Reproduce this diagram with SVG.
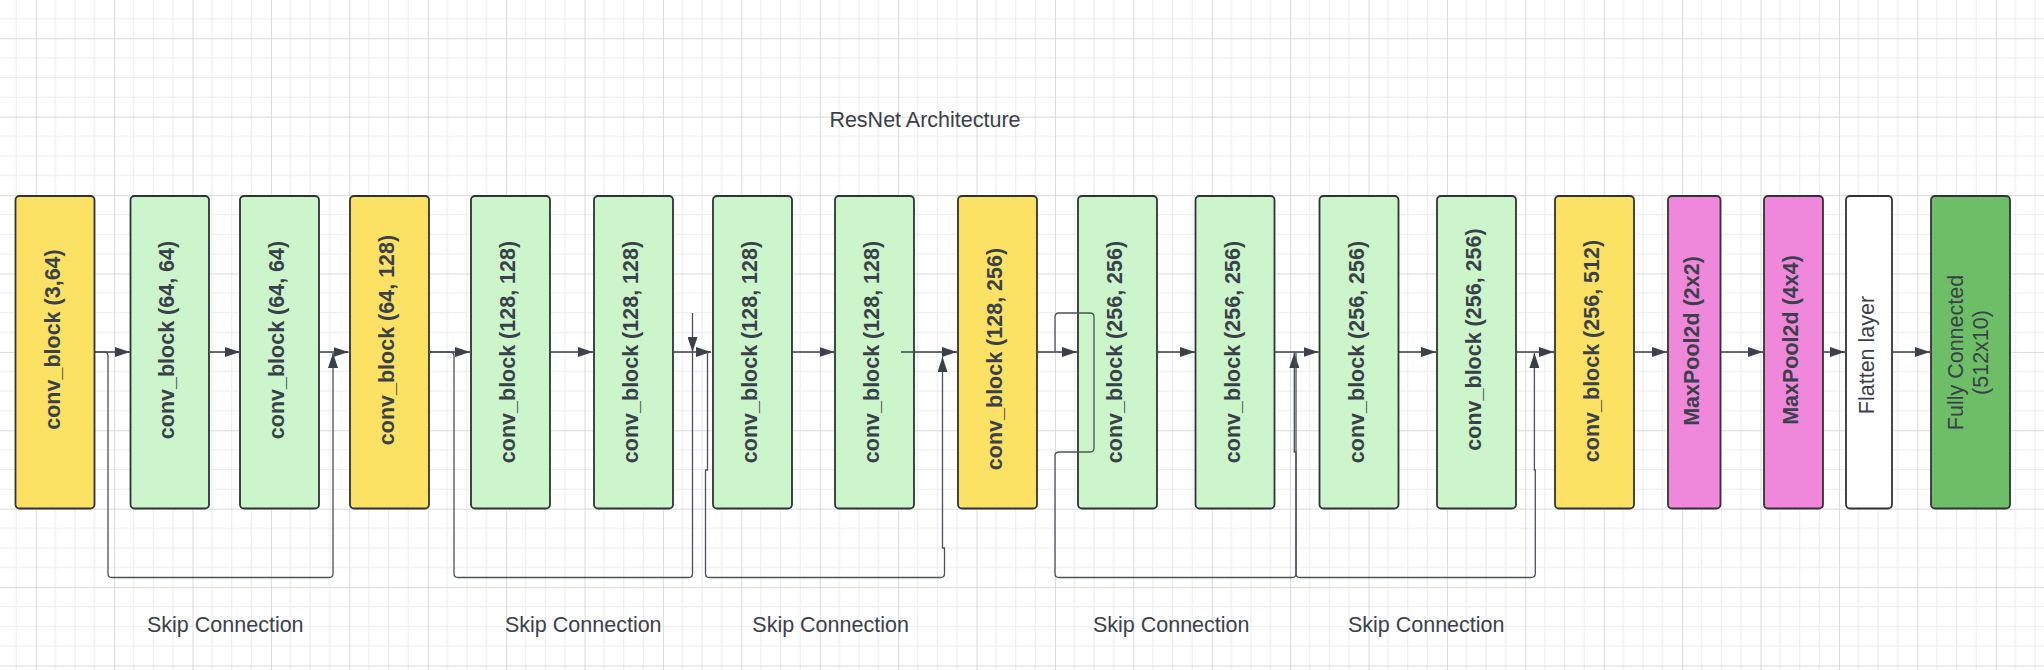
<svg xmlns="http://www.w3.org/2000/svg" width="2044" height="670" viewBox="0 0 2044 670">
  <defs>
    <pattern id="grid" x="35.7" y="38.3" width="78.4" height="78.4" patternUnits="userSpaceOnUse">
      <path d="M19.6,0 V78.4 M39.2,0 V78.4 M58.8,0 V78.4 M0,19.6 H78.4 M0,39.2 H78.4 M0,58.8 H78.4" stroke="#ececec" stroke-width="1" fill="none"/>
      <path d="M0.5,0 V78.4 M0,0.5 H78.4" stroke="#dadada" stroke-width="1" fill="none"/>
    </pattern>
    <marker id="arr" markerUnits="userSpaceOnUse" markerWidth="15" markerHeight="10" refX="15" refY="5" orient="auto">
      <path d="M0,0 L15,5 L0,10 z" fill="#3a414a"/>
    </marker>
    <style>
      .node { stroke: #2f3337; stroke-width: 1.8; }
      .yellow { fill: #fce264; }
      .green { fill: #ccf5cc; }
      .pink { fill: #ef87da; }
      .white { fill: #ffffff; }
      .fc { fill: #6dbe66; }
      .lbl { font-family: "Liberation Sans", Arial, sans-serif; font-size: 21.5px; fill: #3a414a; text-anchor: middle; }
      .b { font-weight: bold; }
      .main { stroke: #3a414a; stroke-width: 1.5; fill: none; }
      .skip { stroke: #4b525a; stroke-width: 1.3; fill: none; }
    </style>
  </defs>
  <rect width="2044" height="670" fill="#ffffff"/>
  <rect width="2044" height="670" fill="url(#grid)"/>

  <text id="title" class="lbl" x="925" y="127.3">ResNet Architecture</text>

  <g id="n1"><rect class="node yellow" x="15.5" y="196" width="79" height="312.5" rx="4"/><text class="lbl b" transform="translate(55,339.5) rotate(-90)" y="4.5">conv_block (3,64)</text></g>
  <g id="n2"><rect class="node green" x="130.5" y="196" width="78.5" height="312.5" rx="4"/><text class="lbl b" transform="translate(169.7,340) rotate(-90)" y="4.5">conv_block (64, 64)</text></g>
  <g id="n3"><rect class="node green" x="240" y="196" width="79" height="312.5" rx="4"/><text class="lbl b" transform="translate(279.5,340) rotate(-90)" y="4.5">conv_block (64, 64)</text></g>
  <g id="n4"><rect class="node yellow" x="350" y="196" width="79" height="312.5" rx="4"/><text class="lbl b" transform="translate(389.5,340) rotate(-90)" y="4.5">conv_block (64, 128)</text></g>
  <g id="n5"><rect class="node green" x="471" y="196" width="79" height="312.5" rx="4"/><text class="lbl b" transform="translate(510.5,352) rotate(-90)" y="4.5">conv_block (128, 128)</text></g>
  <g id="n6"><rect class="node green" x="594" y="196" width="79" height="312.5" rx="4"/><text class="lbl b" transform="translate(633.5,352) rotate(-90)" y="4.5">conv_block (128, 128)</text></g>
  <g id="n7"><rect class="node green" x="713" y="196" width="79" height="312.5" rx="4"/><text class="lbl b" transform="translate(752.5,352) rotate(-90)" y="4.5">conv_block (128, 128)</text></g>
  <g id="n8"><rect class="node green" x="835" y="196" width="79" height="312.5" rx="4"/><text class="lbl b" transform="translate(874.5,352) rotate(-90)" y="4.5">conv_block (128, 128)</text></g>
  <g id="n9"><rect class="node yellow" x="958" y="196" width="79" height="312.5" rx="4"/><text class="lbl b" transform="translate(997.5,359) rotate(-90)" y="4.5">conv_block (128, 256)</text></g>
  <g id="n10"><rect class="node green" x="1078" y="196" width="79" height="312.5" rx="4"/><text class="lbl b" transform="translate(1117.5,352) rotate(-90)" y="4.5">conv_block (256, 256)</text></g>
  <g id="n11"><rect class="node green" x="1195.5" y="196" width="79" height="312.5" rx="4"/><text class="lbl b" transform="translate(1235,352) rotate(-90)" y="4.5">conv_block (256, 256)</text></g>
  <g id="n12"><rect class="node green" x="1319.5" y="196" width="79" height="312.5" rx="4"/><text class="lbl b" transform="translate(1359,352) rotate(-90)" y="4.5">conv_block (256, 256)</text></g>
  <g id="n13"><rect class="node green" x="1437" y="196" width="79" height="312.5" rx="4"/><text class="lbl b" transform="translate(1476.5,339.5) rotate(-90)" y="4.5">conv_block (256, 256)</text></g>
  <g id="n14"><rect class="node yellow" x="1555" y="196" width="79" height="312.5" rx="4"/><text class="lbl b" transform="translate(1594.5,351) rotate(-90)" y="4.5">conv_block (256, 512)</text></g>
  <g id="n15"><rect class="node pink" x="1668" y="196" width="52.5" height="312.5" rx="4"/><text class="lbl b" transform="translate(1694.2,341) rotate(-90)" y="4.5">MaxPool2d (2x2)</text></g>
  <g id="n16"><rect class="node pink" x="1764" y="196" width="59" height="312.5" rx="4"/><text class="lbl b" transform="translate(1793.5,340) rotate(-90)" y="4.5">MaxPool2d (4x4)</text></g>
  <g id="n17"><rect class="node white" x="1846" y="196" width="46" height="312.5" rx="4"/><text class="lbl" transform="translate(1869,355) rotate(-90)" y="4.5">Flatten layer</text></g>
  <g id="n18"><rect class="node fc" x="1931" y="196" width="79" height="312.5" rx="4"/><text class="lbl" transform="translate(1970.5,352.5) rotate(-90)"><tspan x="0" y="-8">Fully Connected</tspan><tspan x="0" y="17">(512x10)</tspan></text></g>

  <g id="connectors">
    <path class="main" marker-end="url(#arr)" d="M94.5,352 H130"/>
    <path class="main" marker-end="url(#arr)" d="M209,352 H240"/>
    <path class="main" marker-end="url(#arr)" d="M319,352 H348.5"/>
    <path class="main" marker-end="url(#arr)" d="M429,352 H470"/>
    <path class="main" marker-end="url(#arr)" d="M550,352 H593"/>
    <path class="main" marker-end="url(#arr)" d="M673,352 H711"/>
    <path class="main" marker-end="url(#arr)" d="M792,352 H834.5"/>
    <path class="main" marker-end="url(#arr)" d="M901,352 H957"/>
    <path class="main" marker-end="url(#arr)" d="M1037,352 H1077"/>
    <path class="main" marker-end="url(#arr)" d="M1157,352 H1195"/>
    <path class="main" marker-end="url(#arr)" d="M1274.5,352 H1318.5"/>
    <path class="main" marker-end="url(#arr)" d="M1398.5,352 H1436"/>
    <path class="main" marker-end="url(#arr)" d="M1516,352 H1554"/>
    <path class="main" marker-end="url(#arr)" d="M1634,352 H1667"/>
    <path class="main" marker-end="url(#arr)" d="M1720.5,352 H1763"/>
    <path class="main" marker-end="url(#arr)" d="M1823,352 H1845"/>
    <path class="main" marker-end="url(#arr)" d="M1892,352 H1930"/>

    <path class="skip" marker-end="url(#arr)" d="M94.5,352 H104 Q108,352 108,356 V573.5 Q108,577.5 112,577.5 H329 Q333,577.5 333,573.5 V353"/>
    <path class="skip" marker-end="url(#arr)" d="M429,352 H450 Q454,352 454,356 V573.5 Q454,577.5 458,577.5 H688.5 Q692.5,577.5 692.5,573.5 V313 V352"/>
    <path class="skip" marker-end="url(#arr)" d="M707.5,352 V470 H705.5 V573.5 Q705.5,577.5 709.5,577.5 H940.5 Q944.5,577.5 944.5,573.5 V548 H942.5 V357"/>
    <path class="skip" marker-end="url(#arr)" d="M1055,352 V317 Q1055,313 1059,313 H1090 Q1094,313 1094,317 V448 Q1094,452 1090,452 H1059 Q1055,452 1055,456 V573.5 Q1055,577.5 1059,577.5 H1292 Q1296,577.5 1296,573.5 V452 H1294.3 V353"/>
    <path class="skip" marker-end="url(#arr)" d="M1296,352 V573.5 Q1296,577.5 1300,577.5 H1531 Q1535.3,577.5 1535.3,573.5 V470 H1534.4 V353"/>
  </g>

  <g id="labels">
    <text class="lbl" x="225.3" y="632">Skip Connection</text>
    <text class="lbl" x="583.3" y="632">Skip Connection</text>
    <text class="lbl" x="830.6" y="632">Skip Connection</text>
    <text class="lbl" x="1171.2" y="632">Skip Connection</text>
    <text class="lbl" x="1426.2" y="632">Skip Connection</text>
  </g>
</svg>
